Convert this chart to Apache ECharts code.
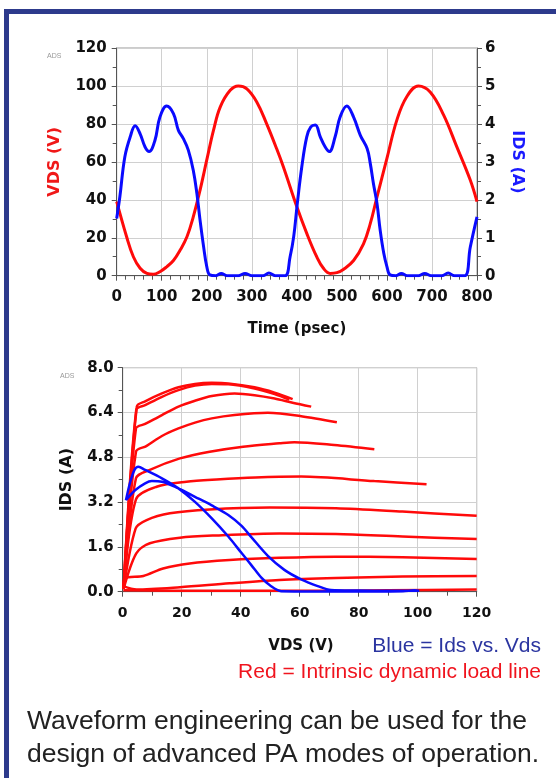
<!DOCTYPE html>
<html>
<head>
<meta charset="utf-8">
<script src="https://cdn.jsdelivr.net/npm/echarts@6/dist/echarts.min.js"></script>
<style>
html,body{margin:0;padding:0;background:#fff;}
#chart{width:556px;height:778px;}
</style>
</head>
<body>
<div id="chart"></div>
<script>
// ---------- Top chart: waveforms vs time (psec) ----------
const vdsWave = [[0,39],[22,20.5],[37,10],[52,3.9],[67,1.2],[81,0.7],[96,2.1],[111,4.7],[126,8],[141,13.5],[156,20.5],[170,31],[185,45],[200,61],[215,76.7],[230,89],[252,97.7],[270,100],[289,98.5],[311,91.6],[333,80],[355,67],[370,57.4],[400,36.3],[422,22.3],[444,10],[459,3.9],[474,1.2],[489,1.6],[504,3.4],[526,8],[548,16.8],[563,27.4],[578,41.6],[600,61.8],[622,82],[644,94.3],[670,100],[696,96.8],[726,84.6],[755,68],[785,50.4],[800,39]];
const idsWave = [[0,1.51],[7,2.08],[18,3.13],[30,3.66],[41,3.95],[52,3.74],[63,3.39],[72,3.27],[85,3.57],[96,4.18],[111,4.47],[126,4.27],[137,3.83],[148,3.61],[159,3.31],[170,2.78],[178,2.17],[185,1.47],[193,0.76],[200,0.24],[207,0.02],[220,0],[232,0.06],[245,0],[270,0],[285,0.06],[300,0],[325,0],[338,0.07],[352,0],[374,0],[385,0.5],[393,1.03],[401,1.9],[411,2.87],[422,3.66],[431,3.92],[441,3.97],[452,3.66],[463,3.39],[472,3.27],[485,3.66],[496,4.18],[511,4.47],[526,4.18],[541,3.7],[556,3.35],[563,2.96],[570,2.43],[578,1.9],[585,1.2],[593,0.59],[600,0.24],[607,0.02],[620,0],[632,0.06],[645,0],[670,0],[684,0.06],[698,0],[722,0],[736,0.07],[750,0],[773,0],[785,0.75],[800,1.55]];

// ---------- Bottom chart: IDS (A) vs VDS (V) ----------
const loadLine1a = [[0.3,0.1],[4.8,6.62],[7.6,6.8],[13.3,7.08],[18.9,7.3],[24.5,7.42],[30.2,7.46],[35.8,7.44],[44.7,7.3],[51.5,7.11],[57.6,6.88]];
const loadLine1b = [[0.3,0.1],[4.6,6.5],[7.6,6.66],[13.3,6.96],[18.9,7.2],[24.5,7.36],[30.2,7.42],[35.8,7.41],[44.7,7.26],[51.5,7.06],[56.5,6.86]];
const loadLine2 = [[0.3,0.1],[4.5,5.83],[7.6,5.99],[13.3,6.31],[18.9,6.61],[24.5,6.82],[30.2,6.99],[37.9,7.08],[44.7,7.02],[51.5,6.9],[57.6,6.75],[63.9,6.61]];
const loadLine3 = [[0.3,0.1],[4.5,5.0],[8,5.2],[13.3,5.56],[18.9,5.83],[24.5,6.04],[30.2,6.19],[37.9,6.31],[49.2,6.39],[60.5,6.27],[72.6,6.05]];
const loadLine4 = [[0.3,0.1],[4.5,4.05],[9.2,4.35],[19.4,4.76],[29.5,5.0],[40.8,5.18],[53.1,5.3],[58.2,5.34],[71.7,5.24],[85.3,5.09]];
const loadLine5 = [[0.3,0.1],[4.5,3.3],[11.5,3.75],[21.6,3.93],[31.8,4.01],[45,4.08],[60.5,4.11],[85.3,3.95],[103,3.84]];
const loadLine6 = [[0.3,0.1],[4.4,2.26],[8.1,2.56],[16,2.8],[29.5,2.94],[49.8,3.01],[72.3,2.98],[94.8,2.86],[120,2.71]];
const loadLine7 = [[0.3,0.1],[4.6,1.37],[9.2,1.73],[19.4,1.93],[31.8,2.01],[53.1,2.08],[72.3,2.06],[94.8,1.97],[120,1.88]];
const loadLine8 = [[0.3,0.1],[0.8,0.48],[7,0.56],[13.7,0.83],[22.7,1.01],[36.2,1.13],[53.1,1.21],[72.3,1.25],[94.8,1.23],[120,1.17]];
const loadLine9 = [[0.2,0.2],[4.7,0.08],[19.4,0.16],[36.2,0.3],[53.1,0.42],[72.3,0.49],[94.8,0.54],[120,0.56]];
const loadLine10 = [[0.2,0.05],[30,0.03],[60,0.03],[90,0.05],[120,0.08]];
const idsVdsLoop = [[1.1,3.27],[2.5,3.9],[4,4.35],[5.3,4.46],[7.6,4.35],[13.3,4.05],[18.9,3.69],[24.5,3.21],[30.2,2.62],[35.8,1.97],[40.3,1.38],[43.6,0.95],[47,0.5],[50,0.22],[53.7,0.02],[65,0.01],[80,0.01],[95,0.02],[99,0.05],[100.5,0.03],[90,0.03],[80,0.04],[70.6,0.06],[66.1,0.2],[60.5,0.44],[54.8,0.78],[49.2,1.28],[43.6,1.95],[40.3,2.35],[35.8,2.74],[30.2,3.08],[24.5,3.39],[18.9,3.69],[13.3,3.93],[9.9,3.95],[7.6,3.87],[4.3,3.63],[1.1,3.27]];
const loadLines = [loadLine1a, loadLine1b, loadLine2, loadLine3, loadLine4, loadLine5, loadLine6, loadLine7, loadLine8, loadLine9, loadLine10];

const RED = '#ff0a0a';
const BLUE = '#0a0aff';
const TICKFONT = 'DejaVu Sans';

function valAxis(o){
  return Object.assign({
    type:'value',
    axisLine:{show:true, lineStyle:{color:'#555', width:1}},
    axisTick:{show:true, length:5, lineStyle:{color:'#555'}},
    minorTick:{show:true, length:4, lineStyle:{color:'#555'}},
    splitLine:{show:true, lineStyle:{color:'#d0d0d0', width:1}},
    axisLabel:{fontFamily:TICKFONT, fontWeight:'bold', fontSize:15, color:'#111', margin:10}
  }, o);
}

const chart = echarts.init(document.getElementById('chart'));
const series = [];
series.push({type:'line', xAxisIndex:0, yAxisIndex:0, data:vdsWave, smooth:0.4, showSymbol:false, lineStyle:{color:RED, width:3}, z:2});
series.push({type:'line', xAxisIndex:0, yAxisIndex:1, data:idsWave, smooth:0.4, showSymbol:false, lineStyle:{color:BLUE, width:3}, z:3});
loadLines.forEach(function(d){
  series.push({type:'line', xAxisIndex:1, yAxisIndex:2, data:d, smooth:0.3, showSymbol:false, lineStyle:{color:RED, width:2.5}, z:2});
});
series.push({type:'line', xAxisIndex:1, yAxisIndex:2, data:idsVdsLoop, smooth:0.3, showSymbol:false, lineStyle:{color:BLUE, width:2.5}, z:3});

const option = {
  animation:false,
  backgroundColor:'#fff',
  grid:[
    {left:116.7, top:48, width:360.3, height:227.7, show:true, borderColor:'#999', borderWidth:1, outerBoundsMode:'none'},
    {left:122.7, top:367.7, width:354, height:224, show:true, borderColor:'#999', borderWidth:1, outerBoundsMode:'none'}
  ],
  xAxis:[
    valAxis({gridIndex:0, min:0, max:800, interval:100, minorTick:{show:true, splitNumber:5, length:4, lineStyle:{color:'#555'}},
      name:'Time (psec)', nameLocation:'middle', nameGap:46,
      nameTextStyle:{fontFamily:TICKFONT, fontWeight:'bold', fontSize:15, color:'#111'},
      axisLabel:{fontFamily:TICKFONT, fontWeight:'bold', fontSize:15, color:'#111', margin:14}}),
    valAxis({gridIndex:1, min:0, max:120, interval:20, minorTick:{show:true, splitNumber:2, length:4, lineStyle:{color:'#555'}},
      axisLabel:{fontFamily:TICKFONT, fontWeight:'bold', fontSize:14, color:'#111', margin:15}})
  ],
  yAxis:[
    valAxis({gridIndex:0, min:0, max:120, interval:20, position:'left', minorTick:{show:true, splitNumber:2, length:4, lineStyle:{color:'#555'}},
      name:'VDS (V)', nameLocation:'middle', nameRotate:90, nameGap:54,
      nameTextStyle:{fontFamily:TICKFONT, fontWeight:'bold', fontSize:16, color:'#f01818'}}),
    valAxis({gridIndex:0, min:0, max:6, interval:1, position:'right', splitLine:{show:false},
      minorTick:{show:true, splitNumber:2, length:4, lineStyle:{color:'#555'}},
      axisLabel:{fontFamily:TICKFONT, fontWeight:'bold', fontSize:15, color:'#111', margin:8},
      name:'IDS (A)', nameLocation:'middle', nameRotate:-90, nameGap:32,
      nameTextStyle:{fontFamily:TICKFONT, fontWeight:'bold', fontSize:16, color:'#1a1aff'}}),
    valAxis({gridIndex:1, min:0, max:8, interval:1.6, position:'left', minorTick:{show:true, splitNumber:2, length:4, lineStyle:{color:'#555'}},
      axisLabel:{fontFamily:TICKFONT, fontWeight:'bold', fontSize:15, color:'#111', margin:9, formatter:function(v){return v.toFixed(1);}},
      name:'IDS (A)', nameLocation:'middle', nameRotate:90, nameGap:48,
      nameTextStyle:{fontFamily:TICKFONT, fontWeight:'bold', fontSize:16, color:'#111'}})
  ],
  graphic:[
    {type:'rect', shape:{x:4, y:9, width:560, height:5}, style:{fill:'#2d3a8c'}},
    {type:'rect', shape:{x:4, y:9, width:5, height:780}, style:{fill:'#2d3a8c'}},
    {type:'text', style:{text:'ADS', x:47, y:56, fill:'#999', font:'7px Liberation Sans', verticalAlign:'middle'}},
    {type:'text', style:{text:'ADS', x:60, y:376, fill:'#999', font:'7px Liberation Sans', verticalAlign:'middle'}},
    {type:'text', style:{text:'VDS (V)', x:301, y:646, fill:'#111', font:'bold 15px DejaVu Sans', align:'center', verticalAlign:'middle'}},
    {type:'text', style:{text:'Blue = Ids vs. Vds', x:541, y:646, fill:'#2b35a0', font:'21px Liberation Sans', align:'right', verticalAlign:'middle'}},
    {type:'text', style:{text:'Red = Intrinsic dynamic load line', x:541, y:672, fill:'#f0141e', font:'21px Liberation Sans', align:'right', verticalAlign:'middle'}},
    {type:'text', style:{text:'Waveform engineering can be used for the', x:27, y:722, fill:'#222', font:'26.5px Liberation Sans', verticalAlign:'middle'}},
    {type:'text', style:{text:'design of advanced PA modes of operation.', x:27, y:755, fill:'#222', font:'26.5px Liberation Sans', verticalAlign:'middle'}}
  ],
  series:series
};
chart.setOption(option);
</script>
</body>
</html>
